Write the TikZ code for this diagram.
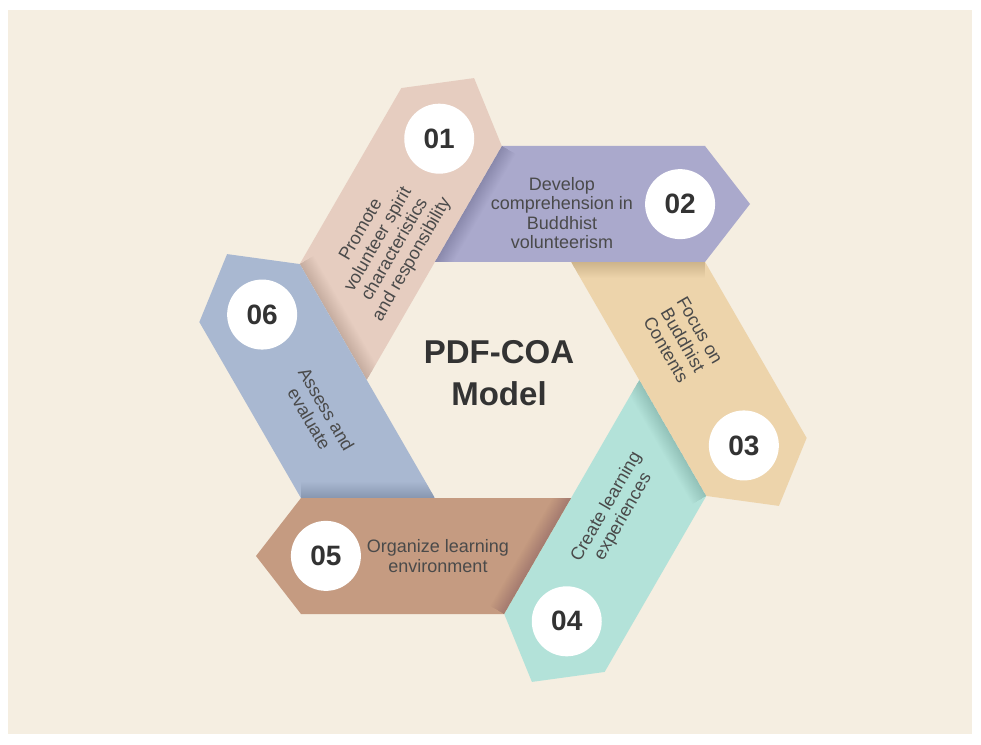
\documentclass[tikz,border=0pt]{standalone}
\usepackage{fontspec}
\setmainfont{Liberation Sans}
\definecolor{bgc}{HTML}{F5EEE1}
\definecolor{c1}{HTML}{E6CDC0}
\definecolor{c2}{HTML}{AAA9CC}
\definecolor{c3}{HTML}{EDD4AB}
\definecolor{c4}{HTML}{B3E2D9}
\definecolor{c5}{HTML}{C59B81}
\definecolor{c6}{HTML}{A9B8D1}
\definecolor{txtc}{HTML}{4A4A4A}
\definecolor{numtc}{HTML}{333333}
\tikzset{
  lbl/.style={font=\fontsize{18}{19.5}\selectfont, text=txtc, align=center, inner sep=0pt},
  numc/.style={circle, fill=white, minimum size=70pt, inner sep=0pt, text=numtc,
    font=\fontsize{28}{30}\selectfont\bfseries},
  ttl/.style={font=\fontsize{33}{42}\selectfont\bfseries, text=numtc, align=center, inner sep=0pt},
  shade/.style={draw=black, line cap=butt}
}
\begin{document}
\begin{tikzpicture}[x=1pt,y=1pt]
\useasboundingbox (-503,-364) rectangle (478,380);
\fill[white] (-503,-364) rectangle (478,380);
\fill[bgc] (-495,370) rectangle (469,-354);
\foreach \r/\c in {60/c1, 0/c2, -60/c3, -120/c4, 180/c5, 120/c6} {
  \begin{scope}[rotate=\r]
    \fill[\c] (-68.1,118) -- (-1.1,234) -- (202,234) -- (247,176) -- (202,118) -- cycle;
    \begin{scope}
      \clip (-68.1,118) -- (-1.1,234) -- (202,234) -- (247,176) -- (202,118) -- cycle;
      \foreach \w in {2,4,...,32} {
        \draw[shade, line width=\w pt, opacity=.008] (-68.1,118) -- (-1.1,234);
      }
    \end{scope}
  \end{scope}
}
\node[numc] (n1) at (104.8:249.6) {01};
\node[numc] (n2) at (44.8:249.6) {02};
\node[numc] (n3) at (-15.2:249.6) {03};
\node[numc] (n4) at (-75.2:249.6) {04};
\node[numc] (n5) at (224.8:249.6) {05};
\node[numc] (n6) at (164.8:249.6) {06};
\node[lbl, rotate=60] (t1) at (-116,135) {Promote\\volunteer spirit\\characteristics\\and responsibility};
\node[lbl] (t2) at (59,167) {Develop\\comprehension in\\Buddhist\\volunteerism};
\node[lbl, rotate=-60] (t3) at (180,40) {Focus on\\Buddhist\\Contents};
\node[lbl, rotate=60] (t4) at (112,-132) {Create learning\\experiences};
\node[lbl] (t5) at (-65,-176) {Organize learning\\environment};
\node[lbl, rotate=-60] (t6) at (-185,-34) {Assess and\\evaluate};
\node[ttl] (title) at (-4,7) {PDF-COA\\Model};
\end{tikzpicture}
\end{document}
